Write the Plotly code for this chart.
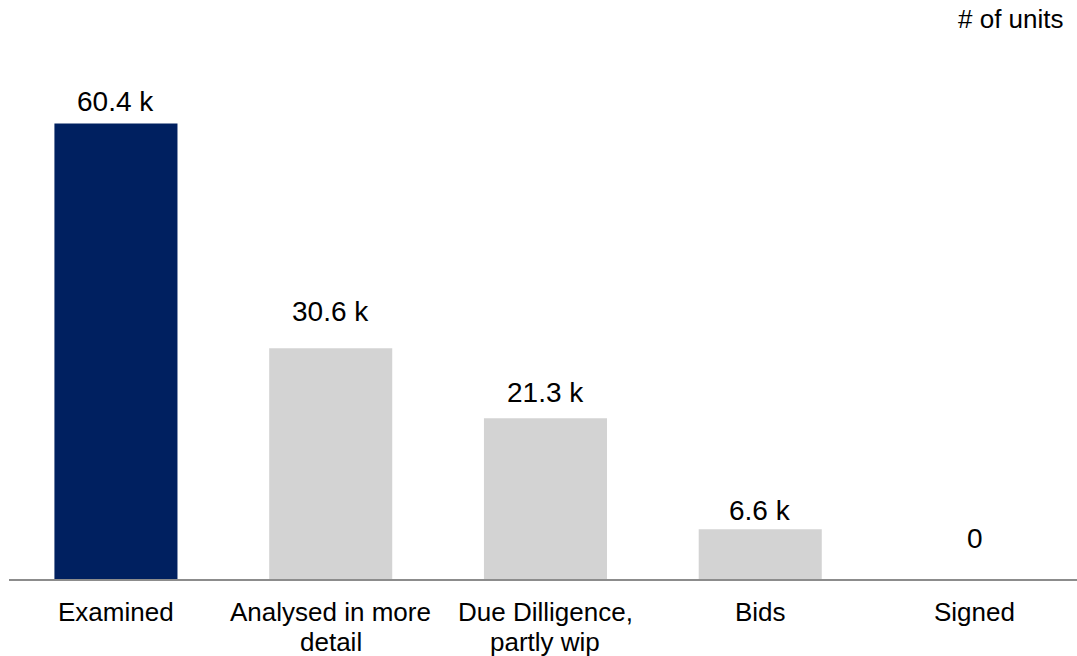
import plotly.graph_objects as go

# Data
stages = ["Examined", "Analysed in more<br>detail", "Due Dilligence,<br>partly wip", "Bids", "Signed"]
units_k = [60.4, 30.6, 21.3, 6.6, 0]
value_labels = ["60.4 k", "30.6 k", "21.3 k", "6.6 k", "0"]
bar_colors = ["#002060", "#D3D3D3", "#D3D3D3", "#D3D3D3", "#D3D3D3"]

fig = go.Figure(
    go.Bar(
        x=list(range(len(stages))),
        y=units_k,
        marker_color=bar_colors,
        marker_line_width=0,
        width=0.573,
        showlegend=False,
        hoverinfo="skip",
    )
)

# value labels above bars (offsets tuned to look like the original)
label_shift = [4, 19, 8, 1, 23]
for i, (v, t) in enumerate(zip(units_k, value_labels)):
    fig.add_annotation(
        x=i, y=v, text=t, showarrow=False,
        yanchor="bottom", yshift=label_shift[i],
        font=dict(size=28, color="#000000"),
    )

# category labels as annotations so the line spacing can be tighter
for i, s in enumerate(stages):
    for j, line in enumerate(s.split("<br>")):
        fig.add_annotation(
            x=i, y=0, xref="x", yref="paper", text=line, showarrow=False,
            yanchor="top", yshift=-16 - 30 * j,
            font=dict(size=26, color="#000000"),
        )

fig.add_annotation(
    x=1, y=1, xref="paper", yref="paper",
    xanchor="right", yanchor="bottom",
    text="# of units", showarrow=False, yshift=15, xshift=-11,
    font=dict(size=26, color="#000000"),
)

fig.update_layout(
    width=1077,
    height=656,
    margin=dict(l=9, r=0, t=51, b=77),
    plot_bgcolor="white",
    paper_bgcolor="white",
    font=dict(family="Liberation Sans, Arial, sans-serif", size=26, color="#000000"),
    xaxis=dict(
        range=[-0.498, 4.475],
        showline=True,
        linecolor="#8C8C8C",
        linewidth=2,
        showgrid=False,
        zeroline=False,
        ticks="",
        showticklabels=False,
    ),
    yaxis=dict(
        range=[0, 70],
        visible=False,
        showgrid=False,
        zeroline=False,
    ),
)

# drop the default page margin so the figure sits flush in the window
fig.write_html(
    "out.html",
    config={"displayModeBar": False},
    post_script="document.body.style.margin='0px';",
)
